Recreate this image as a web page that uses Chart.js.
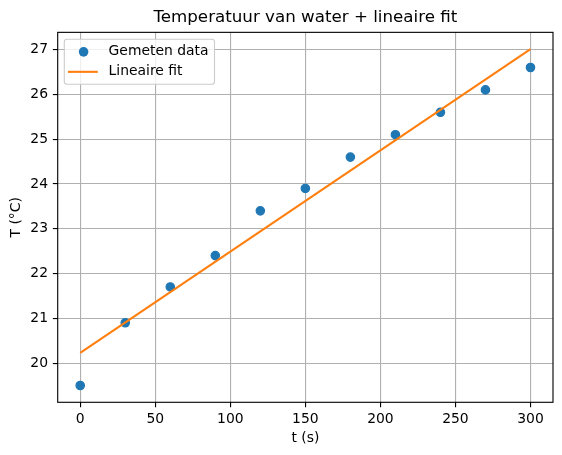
<!DOCTYPE html>
<html>
<head>
<meta charset="utf-8">
<script src="https://cdn.jsdelivr.net/npm/chart.js@4"></script>
<style>
html,body{margin:0;padding:0;background:#fff;}
#wrap{width:562px;height:455px;}
</style>
</head>
<body>
<div id="wrap"><canvas id="c" width="562" height="455"></canvas></div>
<script>
// ---- data ----
const timeSeconds = [0, 30, 60, 90, 120, 150, 180, 210, 240, 270, 300];
const measuredTemp = [19.5, 20.9, 21.7, 22.4, 23.4, 23.9, 24.6, 25.1, 25.6, 26.1, 26.6];
const fitTime = [0, 300];
const fitTemp = [20.23, 27.01];
const xTickValues = [0, 50, 100, 150, 200, 250, 300];
const yTickValues = [20, 21, 22, 23, 24, 25, 26, 27];
const seriesLabels = ['Gemeten data', 'Lineaire fit'];
const chartTitle = 'Temperatuur van water + lineaire fit';
const xLabel = 't (s)';
const yLabel = 'T (°C)';

const FONT = 'DejaVu Sans';
const BLUE = '#1f77b4';
const ORANGE = '#ff7f0e';

const frameAndLegend = {
  id: 'frameAndLegend',
  afterDatasetsDraw(chart) {
    const ctx = chart.ctx;
    const a = chart.chartArea;
    ctx.save();
    // spines
    ctx.strokeStyle = '#000';
    ctx.lineWidth = 1.11;
    ctx.strokeRect(a.left, a.top, a.right - a.left, a.bottom - a.top);
    // legend
    ctx.font = '13.9px "' + FONT + '"';
    const textW = Math.max(...seriesLabels.map(s => ctx.measureText(s).width));
    const bx = a.left + 6.6, by = a.top + 6.9;
    const textX = bx + 44.3;
    const bw = textX - bx + textW + 6, bh = 45;
    const r = 2.8;
    ctx.beginPath();
    ctx.moveTo(bx + r, by);
    ctx.lineTo(bx + bw - r, by);
    ctx.arcTo(bx + bw, by, bx + bw, by + r, r);
    ctx.lineTo(bx + bw, by + bh - r);
    ctx.arcTo(bx + bw, by + bh, bx + bw - r, by + bh, r);
    ctx.lineTo(bx + r, by + bh);
    ctx.arcTo(bx, by + bh, bx, by + bh - r, r);
    ctx.lineTo(bx, by + r);
    ctx.arcTo(bx, by, bx + r, by, r);
    ctx.closePath();
    ctx.fillStyle = 'rgba(255,255,255,0.8)';
    ctx.fill();
    ctx.strokeStyle = '#cccccc';
    ctx.lineWidth = 1.1;
    ctx.stroke();
    const row1 = by + 12.6, row2 = by + 32.6;
    // marker
    ctx.beginPath();
    ctx.arc(bx + 19.3, row1, 4.8, 0, Math.PI * 2);
    ctx.fillStyle = BLUE;
    ctx.fill();
    // line handle
    ctx.beginPath();
    ctx.moveTo(bx + 3.6, row2);
    ctx.lineTo(bx + 33.5, row2);
    ctx.strokeStyle = ORANGE;
    ctx.lineWidth = 2.08;
    ctx.stroke();
    ctx.fillStyle = '#000';
    ctx.textBaseline = 'middle';
    ctx.textAlign = 'left';
    ctx.fillText(seriesLabels[0], textX, row1);
    ctx.fillText(seriesLabels[1], textX, row2);
    ctx.restore();
  }
};

const gridCommon = {
  color: '#b0b0b0',
  lineWidth: 1.11,
  tickColor: '#000',
  tickWidth: 1.11,
  tickLength: 4.86,
  drawTicks: true
};

new Chart(document.getElementById('c'), {
  data: {
    datasets: [
      {
        type: 'scatter',
        label: seriesLabels[0],
        data: timeSeconds.map((t, i) => ({x: t, y: measuredTemp[i]})),
        backgroundColor: BLUE,
        borderColor: BLUE,
        borderWidth: 1.2,
        pointRadius: 4.2,
        pointHoverRadius: 4.2,
        order: 2
      },
      {
        type: 'line',
        label: seriesLabels[1],
        data: fitTime.map((t, i) => ({x: t, y: fitTemp[i]})),
        borderColor: ORANGE,
        borderWidth: 2.08,
        pointRadius: 0,
        fill: false,
        tension: 0,
        order: 1
      }
    ]
  },
  options: {
    responsive: false,
    animation: false,
    devicePixelRatio: 1,
    layout: {padding: {left: 0, right: 9, top: 0, bottom: 0}},
    plugins: {
      legend: {display: false},
      tooltip: {enabled: false},
      title: {
        display: true,
        text: chartTitle,
        fullSize: false,
        color: '#000',
        font: {family: FONT, size: 16.7, weight: 'normal', lineHeight: 1.2},
        padding: {top: 8, bottom: 4.3}
      }
    },
    scales: {
      x: {
        type: 'linear',
        position: 'bottom',
        min: -15,
        max: 315,
        afterBuildTicks: s => { s.ticks = xTickValues.map(v => ({value: v})); },
        afterFit: s => { s.height = 52.7; },
        grid: gridCommon,
        border: {display: false},
        ticks: {
          color: '#000',
          font: {family: FONT, size: 13.9},
          padding: 3.5,
          maxRotation: 0,
          autoSkip: false
        },
        title: {
          display: true,
          text: xLabel,
          color: '#000',
          font: {family: FONT, size: 13.9},
          padding: {top: 0, bottom: 8.7}
        }
      },
      y: {
        type: 'linear',
        position: 'left',
        min: 19.1245,
        max: 27.3855,
        afterBuildTicks: s => { s.ticks = yTickValues.map(v => ({value: v})); },
        afterFit: s => { s.width = 57.7; },
        grid: gridCommon,
        border: {display: false},
        ticks: {
          color: '#000',
          font: {family: FONT, size: 13.9},
          padding: 4.86,
          autoSkip: false
        },
        title: {
          display: true,
          text: yLabel,
          color: '#000',
          font: {family: FONT, size: 13.9},
          padding: {top: 8.4, bottom: 0}
        }
      }
    }
  },
  plugins: [frameAndLegend]
});
</script>
</body>
</html>
